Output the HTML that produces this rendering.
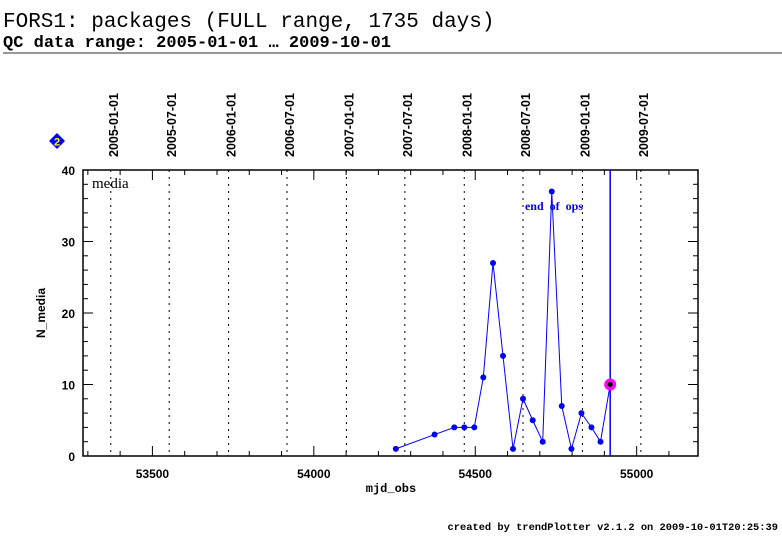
<!DOCTYPE html>
<html><head><meta charset="utf-8"><style>
body{margin:0;background:#fff;width:782px;height:542px;overflow:hidden}
svg text{font-family:"Liberation Sans",sans-serif}
</style></head><body>
<svg id="c" width="782" height="542" xmlns="http://www.w3.org/2000/svg">
<text x="3" y="27" style="font-family:'Liberation Mono',monospace" font-size="21">FORS1: packages (FULL range, 1735 days)</text>
<text x="3" y="47" style="font-family:'Liberation Mono',monospace;font-weight:bold" font-size="17" textLength="388">QC data range: 2005-01-01 … 2009-10-01</text>
<line x1="3" y1="53" x2="782" y2="53" stroke="#777" stroke-width="1.5"/>
<g><path d="M57 133 L65 141 L57 149 L49 141Z" fill="#0000ff"/><text x="57" y="145.5" font-size="11" font-weight="bold" fill="#ff0" text-anchor="middle">2</text></g>
<g id="plot"></g>
<text x="778" y="530" style="font-family:'Liberation Mono',monospace;font-weight:bold" font-size="10.4" text-anchor="end">created by trendPlotter v2.1.2 on 2009-10-01T20:25:39</text>
</svg>
<script>
const mjd=[54254,54374,54435,54466,54497,54525,54555,54586,54617,54648,54678,54709,54737,54768,54798,54829,54860,54888,54918];
const nMedia=[1,3,4,4,4,11,27,14,1,8,5,2,37,7,1,6,4,2,10];
const dateLabels=["2005-01-01","2005-07-01","2006-01-01","2006-07-01","2007-01-01","2007-07-01","2008-01-01","2008-07-01","2009-01-01","2009-07-01"];
const dateMjd=[53371,53552,53736,53917,54101,54282,54466,54648,54832,55013];
const xTicks=[53500,54000,54500,55000];
const yTicks=[0,10,20,30,40];
const endOps=54918;
const L=83,R=698,T=170,B=456,X0=53285,X1=55190,Y0=0,Y1=40;
const sx=v=>L+(v-X0)/(X1-X0)*(R-L), sy=v=>B-(v-Y0)/(Y1-Y0)*(B-T);
const NS="http://www.w3.org/2000/svg",g=document.getElementById('plot');
function mk(t,a,txt){const e=document.createElementNS(NS,t);for(const k in a)e.setAttribute(k,a[k]);if(txt!==undefined)e.textContent=txt;g.appendChild(e);return e;}
dateMjd.forEach((d,i)=>{const x=sx(d);
 const ln=mk('line',{x1:x,y1:T,x2:x,y2:B,stroke:'#000','stroke-dasharray':'2,5','stroke-width':1});
 
 
 const t=mk('text',{x:0,y:0,transform:`translate(${x+7},157) rotate(-90)`,'font-size':12.5,'font-weight':'bold'},dateLabels[i]);
 
 
});
const fr=mk('rect',{x:L,y:T,width:R-L,height:B-T,fill:'none',stroke:'#000','stroke-width':1.5});


for(let v=53300;v<=55100;v+=100){const x=sx(v),big=v%500===0;
 mk('line',{x1:x,y1:B,x2:x,y2:B-(big?10:5),stroke:'#000'});
 mk('line',{x1:x,y1:T,x2:x,y2:T+(big?10:5),stroke:'#000'});}
xTicks.forEach(v=>{const t=mk('text',{x:sx(v),y:478,'font-size':12,'font-weight':'bold','text-anchor':'middle'},v);
 
 });
for(let v=0;v<=40;v+=2){const y=sy(v),big=v%10===0;
 mk('line',{x1:L,y1:y,x2:L+(big?10:5),y2:y,stroke:'#000'});
 mk('line',{x1:R,y1:y,x2:R-(big?10:5),y2:y,stroke:'#000'});}
yTicks.forEach(v=>{const t=mk('text',{x:75,y:sy(v)+5,'font-size':12,'font-weight':'bold','text-anchor':'end'},v);
 
 });
let xt=mk('text',{x:391,y:492,'font-size':12,'font-weight':'bold','text-anchor':'middle','style':"font-family:'Liberation Mono',monospace"},'mjd_obs');


let yt=mk('text',{x:0,y:0,transform:'translate(45,313) rotate(-90)','font-size':12,'font-weight':'bold','text-anchor':'middle'},'N_media');


let pl=mk('text',{x:92,y:188,'font-size':15,'style':"font-family:'Liberation Serif',serif"},'media');


const ex=sx(endOps);
let el=mk('line',{x1:ex,y1:T,x2:ex,y2:B,stroke:'#0000ff','stroke-width':1.5});


let et=mk('text',{x:583,y:210,'font-size':12,'font-weight':'bold',fill:'#0000ff','text-anchor':'end','style':"font-family:'Liberation Serif',serif"},'end  of  ops');


et.setAttribute('xml:space','preserve');
et.style.whiteSpace='pre';
let line=mk('polyline',{points:mjd.map((d,i)=>sx(d)+','+sy(nMedia[i])).join(' '),fill:'none',stroke:'#0000ff','stroke-width':1});


mjd.forEach((d,i)=>{const last=i===mjd.length-1;
 if(last){const h=mk('circle',{cx:sx(d),cy:sy(nMedia[i]),r:6,fill:'#ff00ff'});
  
  }
 const c=mk('circle',{cx:sx(d),cy:sy(nMedia[i]),r:last?2.5:3,fill:last?'#000':'#0000ff'});
 
 });
</script>
</body></html>
